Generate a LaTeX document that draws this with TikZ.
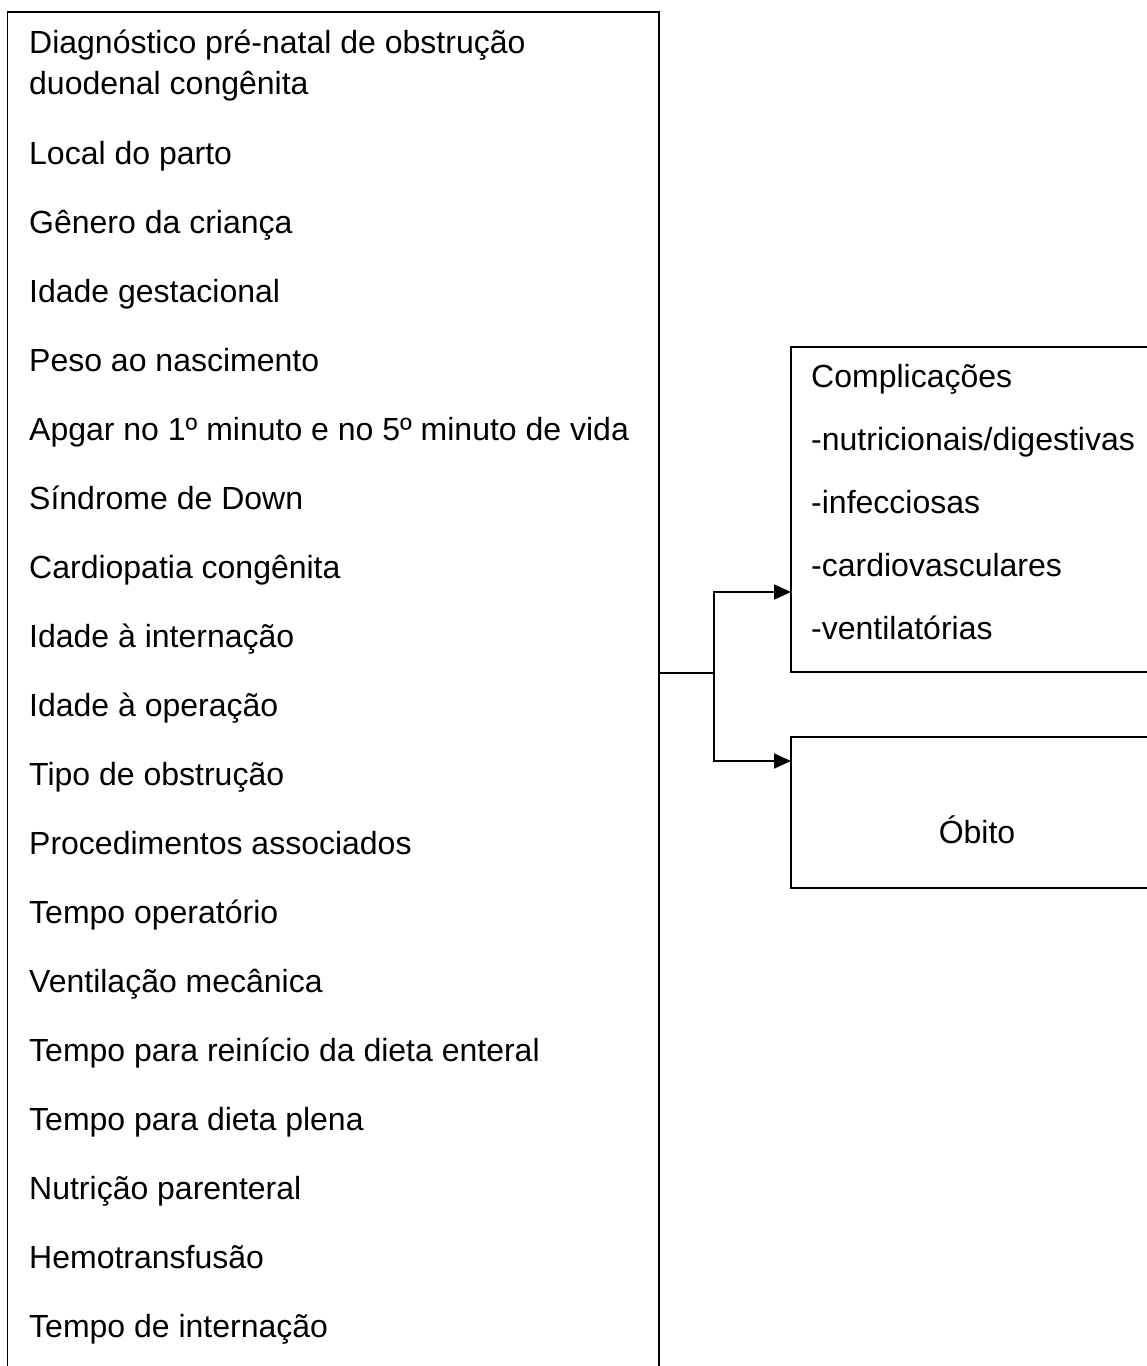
\documentclass[tikz,border=0pt]{standalone}
\usepackage{fontspec}
\setmainfont{Liberation Sans}
\usetikzlibrary{arrows.meta}
\tikzset{
  box/.style={draw, line width=1.6pt, outer sep=0pt, inner sep=0pt, anchor=north west},
  item/.style={anchor=base west, inner sep=0pt, font=\fontsize{32}{41}\selectfont},
  link/.style={line width=1.6pt},
  arr/.style={link, -{Triangle[length=17pt,width=15pt]}}
}
\begin{document}
\begin{tikzpicture}[x=1pt, y=-1pt]
\clip (0,0) rectangle (1147,1366);
% caixas
\node[box, minimum width=651.5pt, minimum height=1400pt] (vars) at (7.5,12) {};
\node[box, minimum width=400pt, minimum height=325pt] (comp) at (791,347) {};
\node[box, minimum width=400pt, minimum height=151pt] (obito) at (791,737) {};
% variaveis
\node[item] (diag) at (29,53) {Diagnóstico pré-natal de obstrução};
\node[item] (diagb) at (29,94) {duodenal congênita};
\foreach \t [count=\i] in {Local do parto, Gênero da criança, Idade gestacional,
  Peso ao nascimento, Apgar no 1º minuto e no 5º minuto de vida, Síndrome de Down,
  Cardiopatia congênita, Idade à internação, Idade à operação, Tipo de obstrução,
  Procedimentos associados, Tempo operatório, Ventilação mecânica,
  Tempo para reinício da dieta enteral, Tempo para dieta plena,
  Nutrição parenteral, Hemotransfusão, Tempo de internação}
  \node[item] (v\i) at (29,{164+69*(\i-1)}) {\t};
% desfechos
\node[item] (ctit) at (811,387) {Complicações};
\foreach \t [count=\i] in {-nutricionais/digestivas, -infecciosas,
  -cardiovasculares, -ventilatórias}
  \node[item] (c\i) at (811,{450+63.3*(\i-1)}) {\t};
\node[item, anchor=base] (obt) at (977,843) {Óbito};
% ligacoes
\coordinate (hub) at (714,673);
\coordinate (in1) at (791,592);
\coordinate (in2) at (791,761);
\draw[link] (vars.east |- hub) -- (hub);
\draw[arr] (hub) |- (in1);
\draw[arr] (hub) |- (in2);
\end{tikzpicture}
\end{document}
